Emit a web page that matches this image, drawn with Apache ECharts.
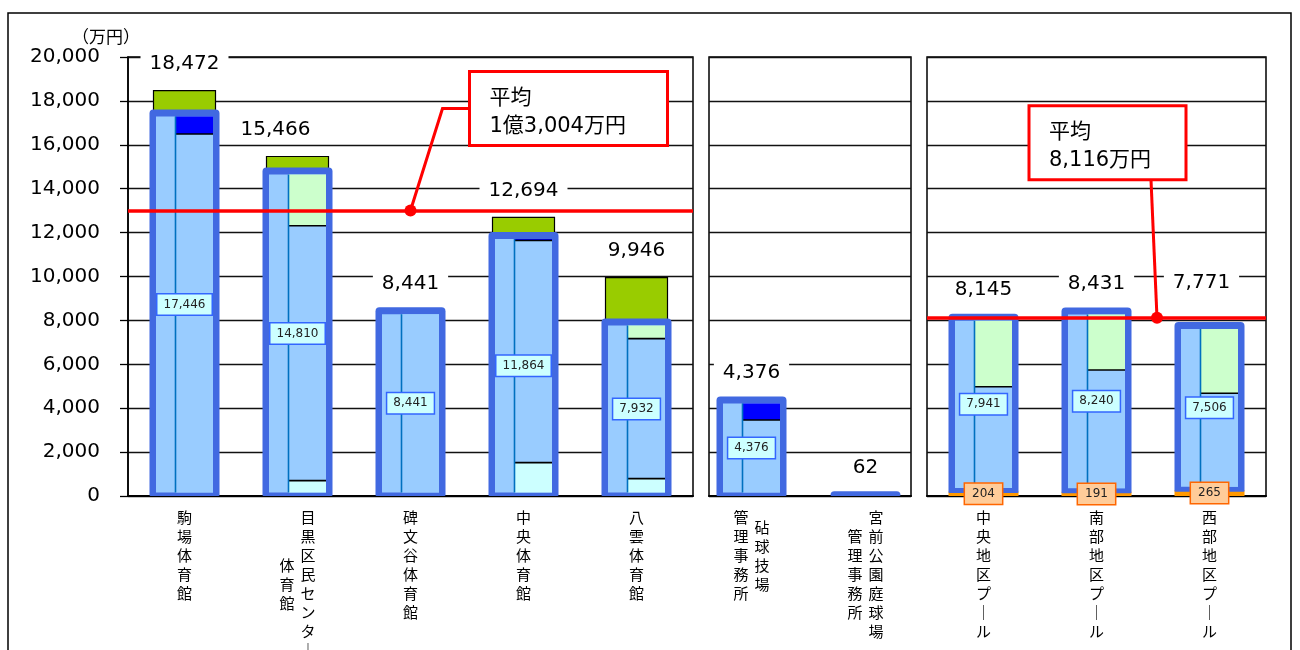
<!DOCTYPE html>
<html><head><meta charset="utf-8">
<script src="https://cdn.jsdelivr.net/npm/echarts@6/dist/echarts.min.js"></script>
<style>html,body{margin:0;padding:0;background:#fff}#c{width:1300px;height:650px}</style>
</head><body><div id="c"></div>
<script>
// ---------------- data ----------------
const categories = ['駒場体育館', '目黒区民センター\n体育館', '碑文谷体育館', '中央体育館', '八雲体育館',
  '砧球技場\n管理事務所', '宮前公園庭球場\n管理事務所',
  '中央地区プール', '南部地区プール', '西部地区プール'];
const totals        = [18472, 15466, 8441, 12694, 9946, 4376, 62, 8145, 8431, 7771];
const facilityCost  = [17446, 14810, 8441, 11864, 7932, 4376, 62, 7941, 8240, 7506];
const poolCost      = [0, 0, 0, 0, 0, 0, 0, 204, 191, 265];
const cyanPart      = [0, 700, 0, 1520, 790, 0, 0, 0, 0, 0];
const lightBluePart = [16490, 11610, 8441, 10120, 6380, 3460, 62, 4776, 5549, 4415];
const lightGreenPart= [0, 2500, 0, 0, 762, 0, 0, 3165, 2691, 3091];
const darkBluePart  = [956, 0, 0, 224, 0, 916, 0, 0, 0, 0];
const panelRanges   = [[0, 5], [5, 7], [7, 10]];
const yMin = 0, yMax = 20000, yStep = 2000;
const avgGym = 13004, avgPool = 8116;
const avgGymText = '平均\n1億3,004万円';
const avgPoolText = '平均\n8,116万円';
const unitText = '（万円）';

// ---------------- helpers ----------------
const fmt = v => v.toLocaleString('en-US');
const totalNudge = {1: [-22, 0], 9: [-8, -16]};
const JP = '"Noto Sans CJK JP", sans-serif';
const MIX = '"DejaVu Sans", "Noto Sans CJK JP", sans-serif';
const NUM = '"DejaVu Sans", sans-serif';

function verticalLabel(name) {
  const cols = name.split('\n').map(s => Array.from(s.replace(/ー/g, '｜')));
  const n = Math.max(...cols.map(c => c.length));
  const H = 2 * n - 1;
  const starts = cols.map(c => n - c.length);
  const lines = [];
  for (let h = 0; h < H; h++) {
    const frags = [];
    for (let k = cols.length - 1; k >= 0; k--) {
      const j = h - starts[k];
      const ch = (j >= 0 && j % 2 === 0 && j / 2 < cols[k].length) ? cols[k][j / 2] : '　';
      frags.push('{c|' + ch + '}');
      if (k > 0) frags.push('{g| }');
    }
    lines.push(frags.join(''));
  }
  return lines.join('\n');
}

function makeRender(offset) {
  return function (params, api) {
    const i = api.value(0);
    const gi = offset + i;
    const orange = api.value(1), blue = api.value(2), total = api.value(3);
    const segs = [api.value(4), api.value(5), api.value(6), api.value(7)];
    const b = api.coord([i, 0]);
    const cx = b[0], y0 = b[1];
    const Y = v => api.coord([i, v])[1];
    const yOr = Y(orange), yTop = Y(orange + blue), yTot = Y(total);
    const kids = [];
    if (orange > 0) kids.push({type: 'rect', shape: {x: cx - 35, y: yOr, width: 70, height: y0 - yOr}, style: {fill: '#FF9900'}});
    if (total - orange - blue > 0) kids.push({type: 'rect', shape: {x: cx - 31, y: yTot, width: 62, height: yTop - yTot}, style: {fill: '#99CC00', stroke: '#000', lineWidth: 1.2}});
    const outB = Math.min(yOr + 1.5, y0);
    const outT = yTop - 3.5;
    kids.push({type: 'rect', shape: {x: cx - 35, y: outT, width: 70, height: outB - outT, r: [4, 4, 1, 1]}, style: {fill: '#4169E1'}});
    const ix0 = cx - 28.5, ix1 = cx + 28.5, iy0 = yTop + 3.5, iy1 = Math.min(yOr, y0) - 3.5;
    if (iy1 - iy0 > 1) {
      kids.push({type: 'rect', shape: {x: ix0, y: iy0, width: ix1 - ix0, height: iy1 - iy0}, style: {fill: '#99CCFF'}});
      const sx = cx - 9;
      let cum = orange;
      const cols = ['#CCFFFF', '#99CCFF', '#CCFFCC', '#0000FF'];
      const seps = [];
      segs.forEach((v, k) => {
        if (!(v > 0)) return;
        const yb = Y(cum), yt = Y(cum + v); cum += v;
        const a = Math.max(yt, iy0), bb = Math.min(yb, iy1);
        if (bb > a) kids.push({type: 'rect', shape: {x: sx, y: a, width: ix1 - sx, height: bb - a}, style: {fill: cols[k]}});
        if (k < 2 && cum < orange + blue - 1) seps.push(yt);
      });
      seps.forEach(y => { if (y > iy0 && y < iy1) kids.push({type: 'line', shape: {x1: sx, y1: y, x2: ix1, y2: y}, style: {stroke: '#000', lineWidth: 1.6}}); });
      kids.push({type: 'line', shape: {x1: sx, y1: iy0, x2: sx, y2: iy1}, style: {stroke: '#0070C0', lineWidth: 1.6}});
      kids.push({type: 'text', x: cx, y: Y(orange + blue / 2), style: {text: fmt(blue), align: 'center', verticalAlign: 'middle', fontSize: 12, fontFamily: NUM, fill: '#222', backgroundColor: '#CCFFFF', borderColor: '#3366FF', borderWidth: 1.5, padding: [4, 6]}});
    }
    if (orange > 0) kids.push({type: 'text', x: cx, y: (yOr + y0) / 2, style: {text: fmt(orange), align: 'center', verticalAlign: 'middle', fontSize: 12, fontFamily: NUM, fill: '#222', backgroundColor: '#FFCC99', borderColor: '#FF6600', borderWidth: 1.5, padding: [4, 7]}});
    const nd = totalNudge[gi] || [0, 0];
    kids.push({type: 'text', x: cx + nd[0], y: yTot - 27 + nd[1], style: {text: fmt(total), align: 'center', verticalAlign: 'middle', fontSize: 20, fontFamily: NUM, fill: '#000', backgroundColor: '#fff', padding: [2, 9]}});
    return {type: 'group', children: kids};
  };
}

// ---------------- option ----------------
const gridLine = {lineStyle: {color: '#111', width: 1.3}};
const GT = 57, GH = 439;
const gbase = {top: GT, height: GH, containLabel: false, outerBoundsMode: 'none', borderColor: '#000', borderWidth: 1.5};
const grids = [
  Object.assign({}, gbase, {left: 128, width: 565, show: true}),
  Object.assign({}, gbase, {left: 694.5, width: 228, show: false}),
  Object.assign({}, gbase, {left: 927, width: 339, show: true}),
  Object.assign({}, gbase, {left: 709, width: 202, show: true})
];
const labelRich = {
  c: {fontSize: 15, lineHeight: 9.5, width: 15, align: 'center', fontFamily: JP, color: '#000'},
  g: {width: 6, lineHeight: 9.5, fontSize: 15}
};
function catAxis(p, showLine) {
  const [s, e] = panelRanges[p];
  return {
    type: 'category', gridIndex: p, data: categories.slice(s, e),
    axisLine: {show: showLine, lineStyle: {color: '#000', width: 2}},
    axisTick: {show: false},
    axisLabel: {interval: 0, margin: 17, formatter: verticalLabel, rich: labelRich}
  };
}
const xAxes = [catAxis(0, true), catAxis(1, false), catAxis(2, true),
  {type: 'value', gridIndex: 3, min: 0, max: 1, axisLabel: {show: false}, axisTick: {show: false}, splitLine: {show: false}, axisLine: {show: true, lineStyle: {color: '#000', width: 2}}}];
function valAxis(p, opts) {
  return Object.assign({type: 'value', gridIndex: p, min: yMin, max: yMax, interval: yStep,
    axisLabel: {show: false}, axisTick: {show: false}, axisLine: {show: false}, splitLine: Object.assign({show: true}, gridLine)}, opts || {});
}
const yAxes = [
  valAxis(0, {
    name: unitText, nameLocation: 'end', nameGap: 10,
    nameTextStyle: {fontSize: 17, fontFamily: MIX, color: '#000', align: 'center', padding: [0, 44, 0, 0]},
    axisLabel: {show: true, fontSize: 20, fontFamily: NUM, color: '#000', margin: 28, formatter: v => fmt(v)},
    axisTick: {show: true, length: 8, lineStyle: {color: '#000', width: 1.3}},
    axisLine: {show: true, lineStyle: {color: '#000', width: 1.5}}
  }),
  valAxis(1, {splitLine: {show: false}}),
  valAxis(2),
  valAxis(3)
];
const avgLine = v => ({silent: true, symbol: ['none', 'none'], label: {show: false}, animation: false,
  lineStyle: {color: '#FF0000', width: 3.5, type: 'solid'}, data: [{yAxis: v}]});

const series = panelRanges.map(([s, e], p) => {
  const rows = [];
  for (let k = s; k < e; k++) {
    rows.push([k - s, poolCost[k], facilityCost[k], totals[k], cyanPart[k], lightBluePart[k], lightGreenPart[k], darkBluePart[k]]);
  }
  const ser = {type: 'custom', xAxisIndex: p, yAxisIndex: p, data: rows, encode: {x: 0, y: 3},
    renderItem: makeRender(s), silent: true, animation: false, z: 2};
  if (p === 0) ser.markLine = avgLine(avgGym);
  if (p === 2) ser.markLine = avgLine(avgPool);
  return ser;
});

const chart = echarts.init(document.getElementById('c'), null, {renderer: 'canvas'});
chart.setOption({
  animation: false, backgroundColor: '#fff',
  grid: grids, xAxis: xAxes, yAxis: yAxes, series: series
});

// ---------------- annotations ----------------
const p1 = chart.convertToPixel({gridIndex: 0}, [2, avgGym]);
const a3 = chart.convertToPixel({gridIndex: 2}, [1, avgPool]);
const b3 = chart.convertToPixel({gridIndex: 2}, [2, avgPool]);
const p3 = [(a3[0] + b3[0]) / 2 + 4, a3[1]];
const red = '#FF0000';
const boxText = (x, y, t) => ({type: 'text', x: x, y: y, z: 20, style: {text: t, fontSize: 21, lineHeight: 28, fontFamily: MIX, fill: '#000'}});
const g1 = {x: p1[0] + 59, y: p1[1] - 139, w: 198, h: 74};
const g3 = {x: p3[0] - 128, y: p3[1] - 212, w: 157, h: 74};
chart.setOption({graphic: [
  {type: 'rect', z: 30, shape: {x: 8, y: 13, width: 1283, height: 700}, style: {fill: 'none', stroke: '#000', lineWidth: 1.5}},
  {type: 'polyline', z: 18, shape: {points: [[p1[0], p1[1]], [p1[0] + 32, p1[1] - 102], [g1.x, p1[1] - 102]]}, style: {stroke: red, lineWidth: 3, fill: 'none'}},
  {type: 'circle', z: 19, shape: {cx: p1[0], cy: p1[1], r: 6}, style: {fill: red}},
  {type: 'rect', z: 19, shape: {x: g1.x, y: g1.y, width: g1.w, height: g1.h}, style: {fill: '#fff', stroke: red, lineWidth: 3}},
  boxText(g1.x + 20, g1.y + 13, avgGymText),
  {type: 'line', z: 18, shape: {x1: p3[0] - 6, y1: g3.y + g3.h, x2: p3[0], y2: p3[1]}, style: {stroke: red, lineWidth: 3}},
  {type: 'circle', z: 19, shape: {cx: p3[0], cy: p3[1], r: 6}, style: {fill: red}},
  {type: 'rect', z: 19, shape: {x: g3.x, y: g3.y, width: g3.w, height: g3.h}, style: {fill: '#fff', stroke: red, lineWidth: 3}},
  boxText(g3.x + 20, g3.y + 13, avgPoolText)
]});
</script>
</body></html>
